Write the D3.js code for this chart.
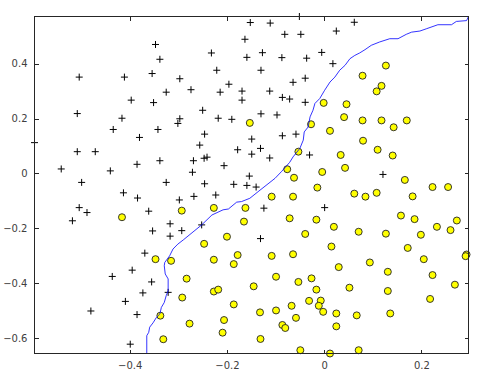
<!DOCTYPE html>
<html>
<head>
<meta charset="utf-8">
<script src="https://cdn.jsdelivr.net/npm/d3@7"></script>
<style>
html,body{margin:0;padding:0;background:#fff;}
svg{display:block;}
</style>
</head>
<body>
<div id="chart"></div>
<script>
// Positive examples (+)
const posX = [-0.347,-0.338,-0.504,-0.411,-0.354,-0.325,-0.397,-0.351,-0.508,-0.416,
  -0.051,-0.152,-0.111,-0.081,-0.048,-0.163,-0.232,-0.159,-0.127,-0.087,
  -0.036,-0.005,-0.221,-0.130,-0.297,-0.196,-0.064,-0.039,-0.274,-0.214,
  -0.169,-0.112,-0.169,-0.086,-0.071,-0.039,-0.250,-0.297,-0.301,-0.218,
  -0.190,-0.130,-0.097,0.062,0.025,0.018,
  -0.434,-0.342,-0.596,-0.380,-0.508,-0.471,-0.541,-0.440,-0.385,-0.338,
  -0.499,-0.325,-0.413,-0.384,-0.504,-0.488,-0.518,-0.361,-0.317,-0.353,-0.317,
  -0.246,-0.149,-0.086,-0.058,-0.256,-0.178,-0.131,-0.149,-0.269,-0.247,
  -0.241,-0.112,-0.030,-0.271,-0.206,-0.154,-0.246,-0.186,-0.159,-0.140,
  -0.298,-0.268,-0.223,-0.124,-0.252,-0.293,-0.131,
  0.121,0.001,
  -0.369,-0.395,-0.436,-0.355,-0.373,-0.321,-0.409,-0.480,-0.385,-0.399];
const posY = [0.470,0.416,0.351,0.351,0.364,0.296,0.267,0.258,0.218,0.201,
  0.572,0.550,0.548,0.507,0.507,0.489,0.439,0.423,0.440,0.422,
  0.420,0.441,0.376,0.376,0.345,0.325,0.332,0.347,0.305,0.296,
  0.300,0.300,0.267,0.277,0.271,0.259,0.230,0.199,0.182,0.201,
  0.197,0.217,0.213,0.551,0.519,0.400,
  0.160,0.160,0.112,0.131,0.079,0.079,0.016,0.009,0.033,0.046,
  -0.033,-0.033,-0.071,-0.090,-0.125,-0.143,-0.173,-0.138,-0.184,-0.210,-0.229,
  0.143,0.125,0.137,0.143,0.103,0.086,0.091,0.070,0.046,0.055,
  0.059,0.056,0.067,0.004,0.028,-0.010,-0.038,-0.040,-0.044,-0.050,
  -0.097,-0.084,-0.079,-0.127,-0.188,-0.209,-0.238,
  -0.004,-0.125,
  -0.291,-0.353,-0.376,-0.396,-0.436,-0.434,-0.467,-0.502,-0.515,-0.623];

// Negative examples (yellow circles)
const negX = [-0.153,-0.027,0.127,0.079,0.118,0.108,-0.001,0.046,0.041,0.079,
  0.118,0.170,0.143,-0.053,-0.076,-0.062,-0.004,-0.014,-0.108,-0.064,
  -0.293,-0.227,-0.162,-0.165,-0.071,-0.016,-0.200,-0.039,-0.416,0.012,
  0.080,0.110,0.034,0.141,0.043,0.166,0.062,0.085,0.108,0.182,
  0.223,0.255,0.158,0.186,0.273,0.020,0.071,0.127,0.199,0.232,
  0.260,-0.347,-0.315,-0.337,-0.331,-0.247,-0.178,-0.227,-0.186,-0.108,
  -0.064,-0.283,-0.099,-0.145,-0.053,-0.026,-0.227,-0.218,-0.016,-0.292,
  -0.186,-0.132,-0.099,-0.067,-0.031,-0.007,-0.011,-0.058,-0.277,-0.206,
  -0.209,-0.086,-0.080,-0.131,-0.049,0.015,0.172,0.293,0.291,0.030,
  0.094,0.205,0.131,0.223,0.052,0.131,0.269,-0.002,0.218,0.025,
  0.067,0.136,0.025,0.071,0.012];
const negY = [0.184,0.179,0.393,0.356,0.319,0.299,0.257,0.252,0.205,0.193,
  0.193,0.193,0.168,0.079,0.015,-0.016,0.005,-0.052,-0.085,-0.085,
  -0.136,-0.126,-0.126,-0.176,-0.164,-0.169,-0.231,-0.221,-0.160,0.155,
  0.119,0.086,0.067,0.065,0.020,-0.024,-0.074,-0.085,-0.071,-0.084,
  -0.050,-0.050,-0.154,-0.167,-0.172,-0.195,-0.213,-0.220,-0.224,-0.195,
  -0.207,-0.313,-0.319,-0.519,-0.605,-0.257,-0.298,-0.315,-0.331,-0.301,
  -0.295,-0.384,-0.377,-0.412,-0.396,-0.383,-0.431,-0.424,-0.424,-0.453,
  -0.478,-0.507,-0.500,-0.483,-0.465,-0.464,-0.483,-0.527,-0.548,-0.535,
  -0.581,-0.553,-0.564,-0.604,-0.645,-0.267,-0.272,-0.296,-0.302,-0.342,
  -0.325,-0.313,-0.359,-0.371,-0.417,-0.429,-0.406,-0.505,-0.458,-0.511,
  -0.518,-0.511,-0.558,-0.645,-0.657];

// Decision boundary
const boundaryX = [-0.365,-0.365,-0.361,-0.359,-0.352,-0.345,-0.338,-0.335,-0.329,-0.325,
  -0.321,-0.321,-0.327,-0.329,-0.328,-0.318,-0.311,-0.301,-0.290,-0.252,
  -0.231,-0.208,-0.197,-0.180,-0.170,-0.153,-0.136,-0.101,-0.088,-0.071,
  -0.064,-0.050,-0.043,-0.041,-0.033,-0.029,-0.023,-0.019,-0.009,0.001,
  0.012,0.022,0.032,0.043,0.053,0.063,0.073,0.084,0.097,0.114,
  0.135,0.152,0.169,0.180,0.197,0.210,0.234,0.262,0.272,0.293,0.297];
const boundaryY = [-0.657,-0.592,-0.580,-0.561,-0.545,-0.525,-0.513,-0.489,-0.471,-0.446,
  -0.428,-0.385,-0.367,-0.337,-0.325,-0.301,-0.276,-0.258,-0.243,-0.188,
  -0.152,-0.133,-0.130,-0.105,-0.103,-0.091,-0.067,-0.018,0.006,0.040,
  0.060,0.091,0.121,0.151,0.169,0.206,0.230,0.255,0.273,0.303,
  0.333,0.351,0.376,0.394,0.418,0.430,0.439,0.451,0.467,0.479,
  0.491,0.491,0.507,0.515,0.519,0.527,0.542,0.542,0.554,0.557,0.572];

const xTicks = [-0.4, -0.2, 0, 0.2];
const yTicks = [-0.6, -0.4, -0.2, 0, 0.2, 0.4];
const xDomain = [-0.596, 0.297];
const yDomain = [-0.657, 0.572];

const W = 483, H = 380;
const margin = {left: 34.5, right: 14.5, top: 16.5, bottom: 26.5};
const iw = W - margin.left - margin.right;
const ih = H - margin.top - margin.bottom;

const svg = d3.select("#chart").append("svg").attr("width", W).attr("height", H);
const g = svg.append("g").attr("transform", `translate(${margin.left},${margin.top})`);

const x = d3.scaleLinear().domain(xDomain).range([0, iw]);
const y = d3.scaleLinear().domain(yDomain).range([ih, 0]);

g.append("rect").attr("width", iw).attr("height", ih).attr("fill", "#fff");

const fmt = d => d === 0 ? "0" : d3.format(".1f")(d);
const styleAxis = sel => {
  sel.select(".domain").remove();
  sel.selectAll("line").attr("stroke", "#262626").attr("shape-rendering", "crispEdges");
  sel.selectAll("text").attr("fill", "#404040").style("font-family", "DejaVu Sans, Verdana, sans-serif").style("font-size", "10px");
};

g.append("g").attr("transform", `translate(0,${ih})`)
  .call(d3.axisBottom(x).tickValues(xTicks).tickFormat(fmt).tickSize(-4).tickPadding(8))
  .call(styleAxis);
g.append("g")
  .call(d3.axisTop(x).tickValues(xTicks).tickFormat("").tickSize(-4))
  .call(styleAxis);
g.append("g")
  .call(d3.axisLeft(y).tickValues(yTicks).tickFormat(fmt).tickSize(-4).tickPadding(7))
  .call(styleAxis);
g.append("g").attr("transform", `translate(${iw},0)`)
  .call(d3.axisRight(y).tickValues(yTicks).tickFormat("").tickSize(-4))
  .call(styleAxis);

const plot = g.append("g");

const pos = posX.map((v, i) => [v, posY[i]]);
const neg = negX.map((v, i) => [v, negY[i]]);

const pl = 3.5;
plot.selectAll("path.pos").data(pos).enter().append("path")
  .attr("class", "pos")
  .attr("d", d => {
    const cx = x(d[0]), cy = y(d[1]);
    return `M${cx - pl},${cy}H${cx + pl}M${cx},${cy - pl}V${cy + pl}`;
  })
  .attr("stroke", "#000").attr("stroke-width", 1).attr("fill", "none");

plot.selectAll("circle.neg").data(neg).enter().append("circle")
  .attr("class", "neg")
  .attr("cx", d => x(d[0])).attr("cy", d => y(d[1])).attr("r", 3.5)
  .attr("fill", "#ffff00").attr("stroke", "#222").attr("stroke-width", 0.9);

const bline = d3.line().x(d => x(d[0])).y(d => y(d[1]));
plot.append("path")
  .datum(boundaryX.map((v, i) => [v, boundaryY[i]]))
  .attr("d", bline)
  .attr("fill", "none").attr("stroke", "#0000ff").attr("stroke-width", 0.8);

g.append("rect").attr("width", iw).attr("height", ih)
  .attr("fill", "none").attr("stroke", "#262626").attr("stroke-width", 1)
  .attr("shape-rendering", "crispEdges");
</script>
</body>
</html>
